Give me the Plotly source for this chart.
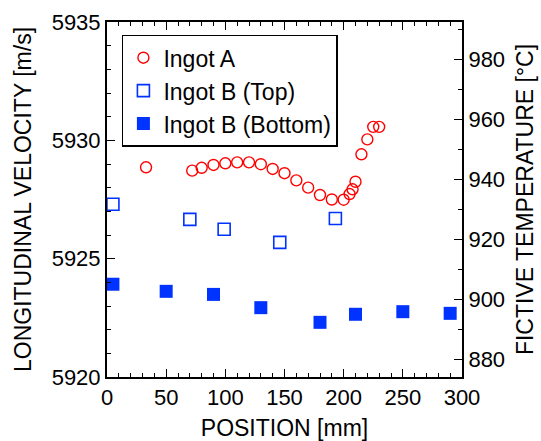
import plotly.graph_objects as go

# Ingot A: position [mm] and longitudinal velocity [m/s]
pos_a = [33, 72, 80, 90, 100, 110, 120, 130, 140, 150, 160, 170, 180, 190,
         200, 205, 207.5, 210, 215, 220, 225, 230]
vel_a = [5928.86, 5928.72, 5928.84, 5928.96, 5929.03, 5929.07, 5929.07, 5928.99,
         5928.79, 5928.61, 5928.31, 5928.00, 5927.69, 5927.50, 5927.49, 5927.73,
         5927.93, 5928.25, 5929.41, 5930.04, 5930.57, 5930.57]

# Ingot B, top section
pos_b_top = [5, 70, 99, 146, 193]
vel_b_top = [5927.30, 5926.66, 5926.24, 5925.69, 5926.70]

# Ingot B, bottom section
pos_b_bot = [5, 50, 90, 130, 180, 210, 250, 290]
vel_b_bot = [5923.92, 5923.62, 5923.49, 5922.93, 5922.31, 5922.65, 5922.76, 5922.69]

# Axis settings
x_range = [0, 300]
vel_range = [5920, 5935]
temp_range = [874.1, 992.4]

FONT = "Liberation Sans, Arial, Helvetica, sans-serif"
BLUE = "#0033ff"
RED = "#ff0000"

fig = go.Figure()
fig.add_trace(go.Scatter(
    x=pos_a, y=vel_a, mode="markers", name="Ingot A", legendgroup="a",
    marker=dict(symbol="circle-open", size=11, color=RED, line=dict(width=1.4, color=RED)),
))
fig.add_trace(go.Scatter(
    x=pos_b_top, y=vel_b_top, mode="markers", name="Ingot B (Top)", legendgroup="bt",
    marker=dict(symbol="square-open", size=12, color=BLUE, line=dict(width=1.6, color=BLUE)),
))
fig.add_trace(go.Scatter(
    x=pos_b_bot, y=vel_b_bot, mode="markers", name="Ingot B (Bottom)", legendgroup="bb",
    marker=dict(symbol="square", size=13, color=BLUE, line=dict(width=0)),
))
# invisible trace to carry the fictive-temperature axis
fig.add_trace(go.Scatter(
    x=[None], y=[None], yaxis="y2", showlegend=False, hoverinfo="skip",
))

tick_common = dict(
    ticks="inside", tickcolor="black", tickwidth=1, ticklen=8,
    showline=True, linecolor="black", linewidth=2,
    showgrid=False, zeroline=False, automargin=False,
    tickfont=dict(family=FONT, size=22, color="black"),
)

fig.update_layout(
    width=541, height=441,
    margin=dict(l=107, r=79, t=22, b=64),
    paper_bgcolor="white", plot_bgcolor="white",
    font=dict(family=FONT, color="black"),
    xaxis=dict(
        range=x_range, dtick=50, tick0=0, mirror="ticks",
        minor=dict(dtick=10, ticklen=4, tickcolor="black", ticks="inside", showgrid=False),
        title=dict(text="POSITION [mm]", font=dict(family=FONT, size=23), standoff=13),
        **tick_common,
    ),
    yaxis=dict(
        range=vel_range, dtick=5, tick0=5920, tickformat="d",
        minor=dict(dtick=1, ticklen=4, tickcolor="black", ticks="inside", showgrid=False),
        title=dict(text="LONGITUDINAL VELOCITY [m/s]", font=dict(family=FONT, size=23), standoff=14),
        **tick_common,
    ),
    yaxis2=dict(
        overlaying="y", side="right", range=temp_range, dtick=20, tick0=880,
        minor=dict(dtick=10, ticklen=4, tickcolor="black", ticks="inside", showgrid=False),
        title=dict(text="FICTIVE TEMPERATURE [°C]", font=dict(family=FONT, size=23), standoff=13),
        **tick_common,
    ),
    legend=dict(
        x=0.042, y=0.964, xanchor="left", yanchor="top",
        bgcolor="white", bordercolor="black", borderwidth=1.5,
        font=dict(family=FONT, size=23, color="black"),
        tracegroupgap=18, traceorder="normal",
    ),
    showlegend=True,
)

fig.write_html("out.html")
